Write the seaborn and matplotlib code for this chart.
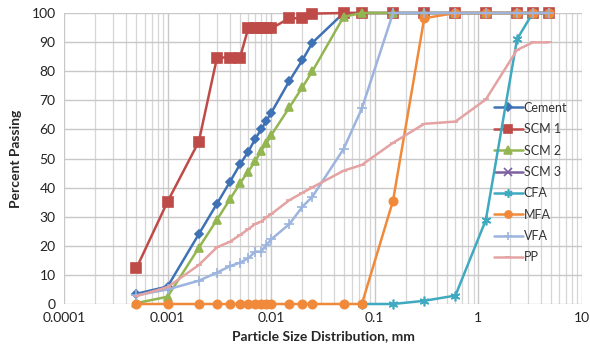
import numpy as np
import matplotlib
matplotlib.use("Agg")
import matplotlib.pyplot as plt
import seaborn as sns
from matplotlib.ticker import FixedLocator, FixedFormatter, LogLocator, NullFormatter

sizes = [0.0005, 0.001, 0.002, 0.003, 0.004, 0.005, 0.006, 0.007, 0.008, 0.009, 0.01,
         0.015, 0.02, 0.025, 0.05, 0.075, 0.15, 0.3, 0.6, 1.18, 2.36, 3.35, 4.75]

cement = [3.5, 6, 24, 34.5, 42, 48, 52.3, 56.7, 60, 63, 65.7,
          76.7, 83.8, 89.8, 100, 100, 100, 100, 100, 100, 100, 100, 100]
scm1 = [12.3, 35.2, 55.8, 84.7, 84.7, 84.7, 94.7, 94.7, 94.7, 94.7, 94.7,
        98.2, 98.2, 99.8, 100, 100, 100, 100, 100, 100, 100, 100, 100]
scm2 = [0.3, 2.5, 19.3, 29, 36, 41.5, 45.5, 49, 52.7, 55.2, 58,
        67.6, 74.5, 80, 98.7, 100, 100, 100, 100, 100, 100, 100, 100]
scm3 = [np.nan] * len(sizes)
cfa = [np.nan] * 15 + [0, 0, 1.1, 2.9, 28.9, 91, 100, 100]
mfa = [0] * 16 + [35.5, 98.2, 100, 100, 100, 100, 100]
vfa = [3, 5, 8, 10.8, 13, 14.2, 15.7, 18, 18, 20.3, 22.2,
       27.5, 33.4, 36.9, 53.3, 67.2, 100, 100, 100, 100, 100, 100, 100]
pp = [2.7, 5.8, 13.4, 19.5, 21.4, 23.7, 25.7, 27.5, 28.3, 29.8, 30.9,
      35.7, 38.2, 40.1, 45.8, 47.8, 55.4, 61.9, 62.7, 70.3, 87.3, 89.9, 89.9]

series_names = ["Cement", "SCM 1", "SCM 2", "SCM 3", "CFA", "MFA", "VFA", "PP"]
x_tick_vals = [0.0001, 0.001, 0.01, 0.1, 1, 10]
x_tick_labels = ["0.0001", "0.001", "0.01", "0.1", "1", "10"]
y_ticks = list(range(0, 101, 10))

sns.set_theme(style="white")
plt.rcParams['font.family'] = ['Lato', 'DejaVu Sans']

fig = plt.figure(figsize=(5.9, 3.56), dpi=100)
ax = fig.add_axes([64/590, 1 - 304/356, (582-64)/590, (304-13)/356])

styles = {
    "Cement": dict(color="#3F72B5", marker="D", markersize=4.5),
    "SCM 1": dict(color="#BE4B48", marker="s", markersize=6.5),
    "SCM 2": dict(color="#93B652", marker="^", markersize=6),
    "SCM 3": dict(color="#7D60A0", marker="x", markersize=6),
    "CFA": dict(color="#3FA9C0", marker=(6, 2, 0), markersize=7),
    "MFA": dict(color="#F08A3A", marker="o", markersize=6),
    "VFA": dict(color="#9CB4DE", marker="+", markersize=7),
    "PP": dict(color="#E4A2A2", marker="_", markersize=5),
}
data = {"Cement": cement, "SCM 1": scm1, "SCM 2": scm2, "SCM 3": scm3,
        "CFA": cfa, "MFA": mfa, "VFA": vfa, "PP": pp}

for i, name in enumerate(series_names):
    st = styles[name]
    y = np.array(data[name], dtype=float)
    x = np.array(sizes)
    m = ~np.isnan(y)
    if m.any():
        sns.lineplot(x=x[m], y=y[m], ax=ax, color=st["color"], marker=st["marker"],
                     markersize=st["markersize"], markeredgecolor=st["color"],
                     markeredgewidth=1.2, linewidth=1.8, label=name,
                     estimator=None, sort=False, zorder=3 + i, clip_on=False)
    else:
        ax.plot([], [], color=st["color"], marker=st["marker"],
                markersize=st["markersize"], markeredgewidth=1.2,
                linewidth=1.8, label=name)

ax.set_xscale("log")
ax.set_xlim(0.0001, 10)
ax.set_ylim(0, 100)
ax.xaxis.set_major_locator(FixedLocator(x_tick_vals))
ax.xaxis.set_major_formatter(FixedFormatter(x_tick_labels))
ax.xaxis.set_minor_locator(LogLocator(base=10, subs=np.arange(2, 10), numticks=20))
ax.xaxis.set_minor_formatter(NullFormatter())
ax.set_yticks(y_ticks)

ax.grid(True, which="major", axis="both", color="#C8C8C8", linewidth=1.0)
ax.grid(True, which="minor", axis="x", color="#D6D6D6", linewidth=0.9)
ax.set_axisbelow(True)
for s in ax.spines.values():
    s.set_visible(False)
ax.tick_params(axis="both", which="both", length=0, labelsize=10, colors="#222222", pad=6)

ax.set_xlabel("Particle Size Distribution, mm", fontsize=10, fontweight="bold", labelpad=4)
ax.set_ylabel("Percent Passing", fontsize=10, fontweight="bold", labelpad=7)

leg = ax.legend(loc="upper left", bbox_to_anchor=(0.82, 0.712), frameon=False,
                fontsize=9, handlelength=2.3, labelspacing=0.75, handletextpad=0.1,
                borderaxespad=0, markerscale=0.85)
for t in leg.get_texts():
    t.set_color("#333333")

fig.savefig("out.png", dpi=100)
